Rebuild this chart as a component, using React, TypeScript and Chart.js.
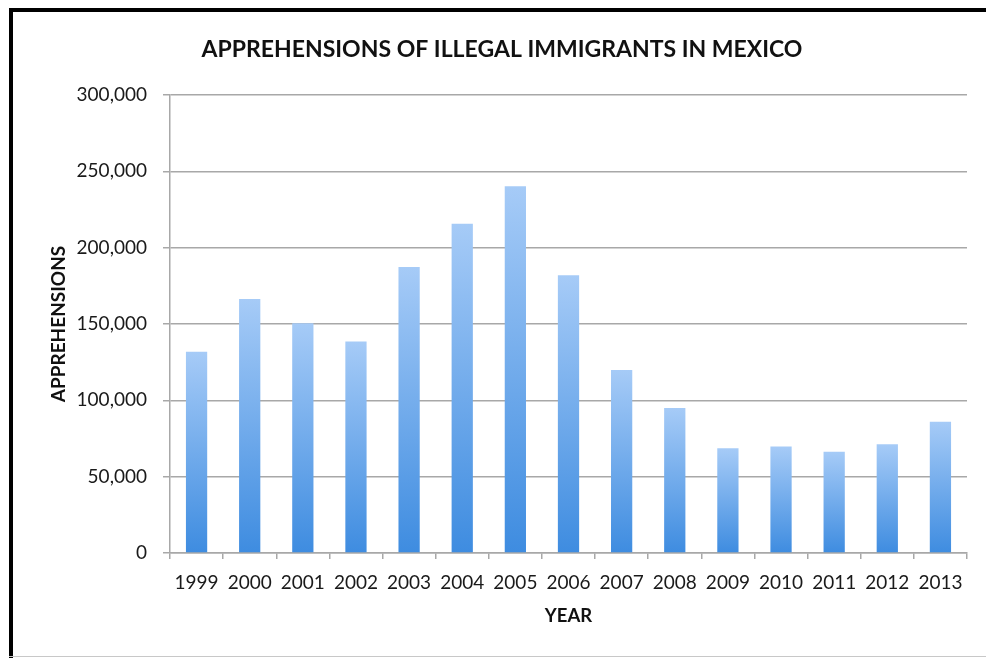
import React, { useEffect, useRef } from "react";
import { Chart, registerables } from "chart.js";

Chart.register(...registerables);

const years = ["1999", "2000", "2001", "2002", "2003", "2004", "2005", "2006", "2007", "2008", "2009", "2010", "2011", "2012", "2013"];
const apprehensions = [131900, 166400, 150500, 138500, 187300, 215700, 240200, 181900, 119900, 95000, 68600, 69700, 66400, 71200, 86000];
const yTicks = [0, 50000, 100000, 150000, 200000, 250000, 300000];

const titleText = "APPREHENSIONS OF ILLEGAL IMMIGRANTS IN MEXICO";
const xTitle = "YEAR";
const yTitle = "APPREHENSIONS";

const framePlugin = {
  id: "frame",
  beforeDraw(chart: any) {
    const ctx = chart.ctx;
    ctx.save();
    ctx.fillStyle = "#ffffff";
    ctx.fillRect(0, 0, chart.width, chart.height);
    ctx.fillStyle = "#000000";
    ctx.fillRect(9, 8, 4, chart.height - 8);
    ctx.fillRect(9, 8, chart.width - 9, 4);
    ctx.fillStyle = "#c8c8c8";
    ctx.fillRect(9, chart.height - 2, chart.width - 9, 1);
    ctx.restore();
  },
};

export default function App() {
  const ref = useRef<HTMLCanvasElement | null>(null);

  useEffect(() => {
    if (!ref.current) return;
    const chart = new Chart(ref.current, {
      type: "bar",
      data: {
        labels: years,
        datasets: [
          {
            label: yTitle,
            data: apprehensions,
            backgroundColor: (ctx: any) => {
              const c = ctx.chart;
              const ys = c.scales && c.scales.y;
              if (!c.chartArea || !ys || ctx.raw == null) return "#6aa8ec";
              const top = ys.getPixelForValue(ctx.raw);
              const bottom = ys.getPixelForValue(0);
              if (!isFinite(top) || !isFinite(bottom) || top === bottom) return "#6aa8ec";
              const g = c.ctx.createLinearGradient(0, top, 0, bottom);
              g.addColorStop(0, "#a6cbf7");
              g.addColorStop(1, "#3e8ce0");
              return g;
            },
            borderWidth: 0,
            categoryPercentage: 1,
            barPercentage: 0.4,
          },
        ],
      },
      options: {
        animation: false,
        responsive: false,
        devicePixelRatio: 1,
        layout: { padding: { left: 37, right: 19, top: 0, bottom: 0 } },
        plugins: {
          legend: { display: false },
          tooltip: { enabled: false },
          title: {
            display: true,
            text: titleText,
            color: "#111111",
            font: { family: "Lato", size: 23, weight: "bold" },
            padding: { top: 36, bottom: 31.4 },
          },
        },
        scales: {
          x: {
            afterFit: (s: any) => {
              s.height = 105;
            },
            grid: {
              display: true,
              drawOnChartArea: false,
              drawTicks: true,
              tickLength: 6,
              offset: true,
              color: "#a8a8a8",
              lineWidth: 1.5,
            },
            border: { display: true, color: "#a8a8a8", width: 1.5 },
            ticks: {
              color: "#1a1a1a",
              font: { family: "Lato", size: 19 },
              padding: 12,
              maxRotation: 0,
              autoSkip: false,
            },
            title: {
              display: true,
              text: xTitle,
              color: "#111111",
              font: { family: "Lato", size: 18.5, weight: "bold" },
              padding: { top: 0, bottom: 31 },
            },
          },
          y: {
            min: 0,
            max: 300000,
            afterFit: (s: any) => {
              s.width = 133;
            },
            afterBuildTicks: (s: any) => {
              s.ticks = yTicks.map((v) => ({ value: v }));
            },
            grid: {
              color: "#a8a8a8",
              lineWidth: 1.5,
              drawTicks: true,
              tickLength: 7,
            },
            border: { display: true, color: "#a8a8a8", width: 1.5 },
            ticks: {
              color: "#1a1a1a",
              font: { family: "Lato", size: 19 },
              padding: 16,
              callback: (v: any) => Number(v).toLocaleString("en-US"),
            },
            title: {
              display: true,
              text: yTitle,
              color: "#111111",
              font: { family: "Lato", size: 19, weight: "bold" },
              padding: { top: 10, bottom: 0 },
            },
          },
        },
      },
      plugins: [framePlugin],
    });
    return () => chart.destroy();
  }, []);

  return (
    <div style={{ position: "fixed", left: 0, top: 0, width: 986, height: 658, background: "#fff" }}>
      <canvas ref={ref} width={986} height={658} style={{ display: "block", width: 986, height: 658 }} />
    </div>
  );
}
